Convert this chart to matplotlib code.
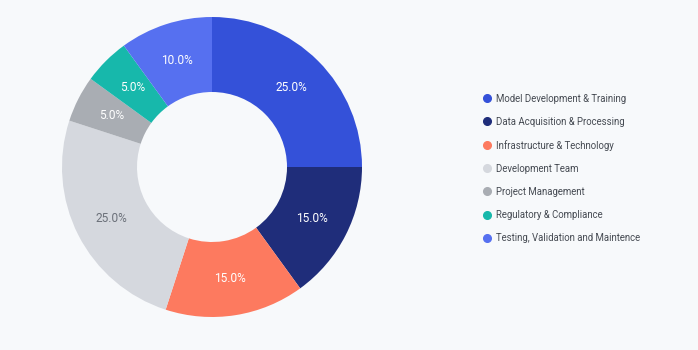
import matplotlib
matplotlib.use("Agg")
import matplotlib.pyplot as plt
from matplotlib.lines import Line2D

categories = ["Model Development & Training", "Data Acquisition & Processing",
              "Infrastructure & Technology", "Development Team", "Project Management",
              "Regulatory & Compliance", "Testing, Validation and Maintence"]
values = [25.0, 15.0, 15.0, 25.0, 5.0, 5.0, 10.0]
colors = ["#3451d9", "#1f2d7a", "#fd7a5f", "#d5d8de", "#a9adb3", "#17b8ab", "#5670f0"]
label_colors = ["white", "white", "white", "#6b7079", "white", "white", "white"]

bg = "#f7f9fb"
plt.rcParams['font.family'] = ['Roboto', 'DejaVu Sans']

fig = plt.figure(figsize=(6.98, 3.5), dpi=100, facecolor=bg)
ax = fig.add_axes([(212 - 150) / 698, (350 - 167 - 150) / 350, 300 / 698, 300 / 350])
ax.set_facecolor(bg)

wedges, texts, autotexts = ax.pie(values, colors=colors, startangle=90, counterclock=False,
                                  radius=1.0, autopct="%.1f%%", pctdistance=0.75,
                                  wedgeprops=dict(width=0.5, linewidth=0),
                                  textprops=dict(fontsize=8.6))
for t, c in zip(autotexts, label_colors):
    t.set_color(c)
ax.set_xlim(-1, 1)
ax.set_ylim(-1, 1)
ax.set_aspect('equal')
ax.axis('off')

handles = [Line2D([], [], marker='o', linestyle='none', markersize=5.5,
                  markerfacecolor=c, markeredgecolor=c) for c in colors]
leg = fig.legend(handles, categories, loc='upper left', bbox_to_anchor=(476 / 698, 1 - 89 / 350),
                 frameon=False, fontsize=6.9, labelspacing=1.36, handletextpad=0.35,
                 handlelength=1.2, borderpad=0, labelcolor="#464b53")

fig.savefig("out.png", dpi=100, facecolor=bg)
